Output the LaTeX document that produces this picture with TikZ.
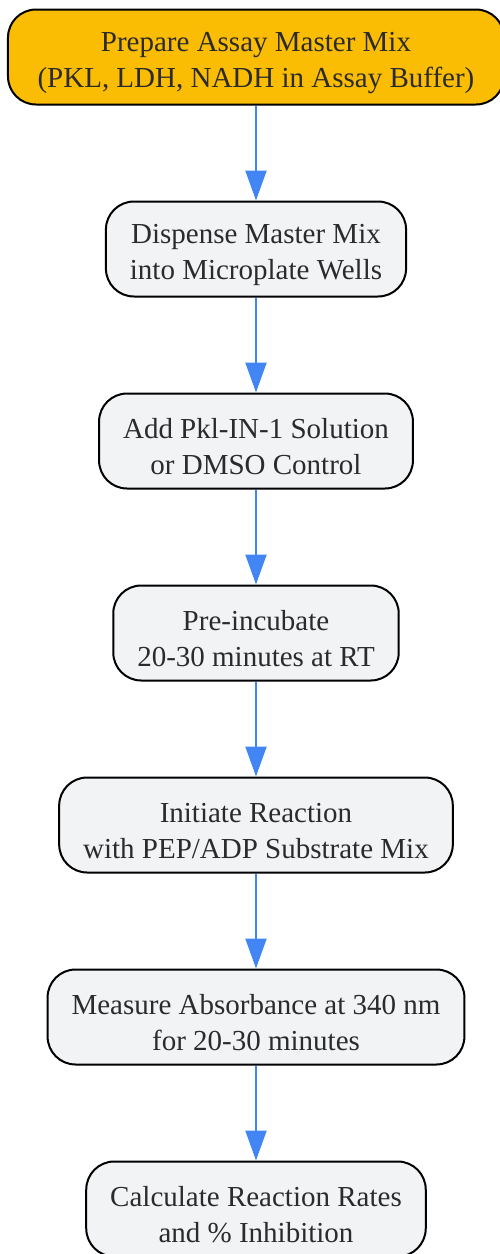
\documentclass[tikz,border=0pt]{standalone}
\usepackage{fontspec}
\setmainfont{Liberation Serif}
\usetikzlibrary{arrows.meta}
\definecolor{stepgrey}{HTML}{F1F3F4}
\definecolor{startgold}{HTML}{FBBC04}
\definecolor{flowblue}{HTML}{4285F4}
\definecolor{textdark}{HTML}{2B2B2B}
\newcommand{\stepstrut}{\rule{0pt}{32pt}}
\tikzstyle{line} = [draw=flowblue, line width=2.2pt, -{Triangle[length=30pt,width=21pt]}]
\tikzstyle{stepbox} = [rectangle, draw=black, line width=2pt, rounded corners=28pt, fill=stepgrey, text=textdark, align=center, inner xsep=24pt, minimum height=95pt, node distance=192pt, font=\fontsize{29}{36}\selectfont]
\tikzstyle{startbox} = [stepbox, fill=startgold, minimum width=496pt]

\begin{document}
\begin{tikzpicture}
	\useasboundingbox (-256pt,57pt) rectangle (244pt,-1197pt);
	\node [startbox] (prep) {\stepstrut Prepare Assay Master Mix\\(PKL, LDH, NADH in Assay Buffer)};
	\node [stepbox, below of = prep] (dispense) {\stepstrut Dispense Master Mix\\into Microplate Wells};
	\node [stepbox, below of = dispense] (addinh) {\stepstrut Add Pkl-IN-1 Solution\\or DMSO Control};
	\node [stepbox, below of = addinh] (preinc) {\stepstrut Pre-incubate\\20-30 minutes at RT};
	\node [stepbox, below of = preinc] (initiate) {\stepstrut Initiate Reaction\\with PEP/ADP Substrate Mix};
	\node [stepbox, below of = initiate] (measure) {\stepstrut Measure Absorbance at 340 nm\\for 20-30 minutes};
	\node [stepbox, below of = measure] (calc) {\stepstrut Calculate Reaction Rates\\and \% Inhibition};

	\path [line] (prep.south) to (dispense.north);
	\path [line] (dispense.south) to (addinh.north);
	\path [line] (addinh.south) to (preinc.north);
	\path [line] (preinc.south) to (initiate.north);
	\path [line] (initiate.south) to (measure.north);
	\path [line] (measure.south) to (calc.north);
\end{tikzpicture}
\end{document}
